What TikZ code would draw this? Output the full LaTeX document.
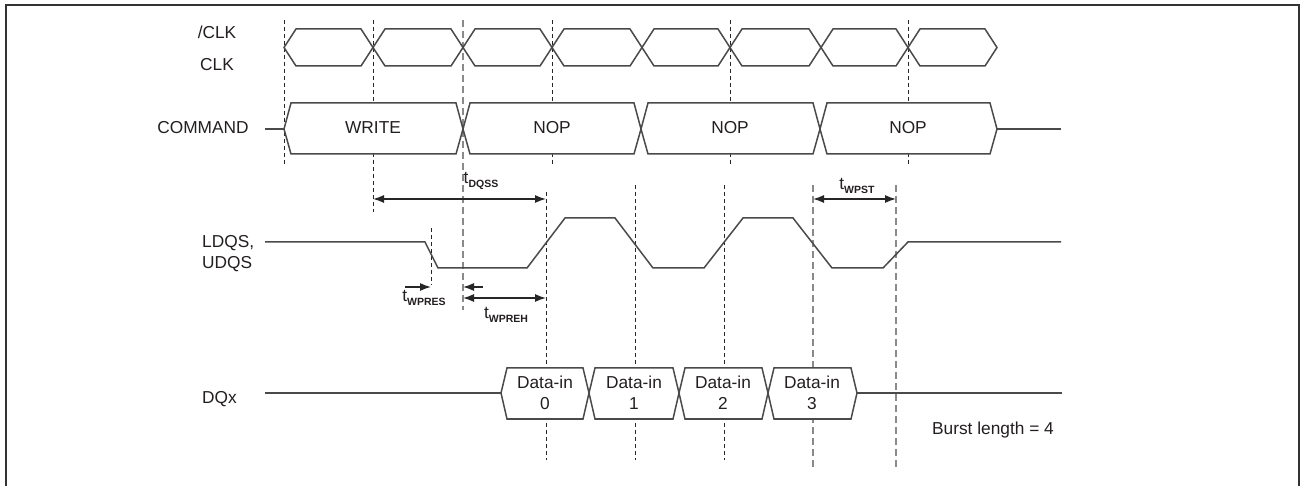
\documentclass[tikz,border=0pt]{standalone}
\usepackage{fontspec}
\setmainfont{Liberation Sans}
\usetikzlibrary{arrows.meta}
\definecolor{wavecol}{HTML}{4A4A4A}
\definecolor{txtcol}{HTML}{231F20}
\definecolor{framecol}{HTML}{333333}
\definecolor{lightdash}{HTML}{8A8A8A}
\newcommand{\tlabel}[1]{t\raisebox{-4pt}{\fontsize{10.5}{12}\selectfont\bfseries #1}}
\begin{document}
\begin{tikzpicture}[x=1pt,y=-1pt,
  wave/.style={draw=wavecol, line width=1.5pt, line join=miter},
  busbox/.style={draw=wavecol, line width=1.5pt, fill=white},
  lbl/.style={font=\fontsize{17.3}{21}\selectfont, text=txtcol, inner sep=0pt},
  blackdash/.style={draw=black!85, line width=0.9pt, dash pattern=on 4pt off 3pt},
  greydash/.style={draw=lightdash, line width=1.1pt, dash pattern=on 7pt off 4pt},
  dimarrow/.style={draw=black!85, line width=1.3pt, {Latex[length=11pt,width=8pt]}-{Latex[length=11pt,width=8pt]}},
  onearrow/.style={draw=black!85, line width=1.3pt, -{Latex[length=11pt,width=8pt]}}
]
\useasboundingbox (0,0) rectangle (1302,486);
\fill[white] (0,0) rectangle (1302,486);
% frame
\draw[framecol, line width=2.6pt] (6,490) -- (6,5) -- (1299,5) -- (1299,490);

% vertical reference lines
\foreach \x/\ya/\yb in {284/20/165, 373/20/212, 552/20/165, 730/20/165, 908/20/165,
                         431/228/285, 546/192/460, 635/185/460, 724/185/460}
  \draw[blackdash] (\x,\ya) -- (\x,\yb);
\foreach \x/\ya/\yb in {463/20/310, 813/185/467, 896/185/467}
  \draw[greydash] (\x,\ya) -- (\x,\yb);

% clock
\foreach \a/\b in {284/373, 373/463, 463/552, 552/642, 642/730, 730/821, 821/908, 908/997}
  \draw[wave] (\a,47.5) -- (\a+12,29) -- (\b-12,29) -- (\b,47.5) -- (\b-12,66) -- (\a+12,66) -- cycle;

% command bus
\draw[wave] (265,129) -- (284,129);
\foreach \a/\b in {284/463, 463/641, 641/820, 820/997}
  \draw[busbox] (\a,129) -- (\a+7,103) -- (\b-7,103) -- (\b,129) -- (\b-7,154) -- (\a+7,154) -- cycle;
\draw[wave] (997,129) -- (1061,129);

% data bus
\draw[wave] (265,393) -- (501,393);
\foreach \a/\b in {501/589, 589/679, 679/768, 768/857}
  \draw[busbox] (\a,393) -- (\a+6,368) -- (\b-6,368) -- (\b,393) -- (\b-6,419) -- (\a+6,419) -- cycle;
\draw[wave] (857,393) -- (1062,393);

% DQS
\draw[wave] (265,242) -- (425,242) -- (438,268) -- (527,268) -- (565,218) -- (615,218)
  -- (653,268) -- (704,268) -- (743,218) -- (793,218) -- (832,268) -- (883,268)
  -- (908,242) -- (1061,242);

% timing arrows
\coordinate (dqssA) at (373,199);
\coordinate (dqssB) at (546,199);
\draw[dimarrow] (dqssA) -- (dqssB);
\coordinate (wpstA) at (813,199);
\coordinate (wpstB) at (896,199);
\draw[dimarrow] (wpstA) -- (wpstB);
\coordinate (wpresA) at (405,287);
\coordinate (wpresB) at (431,287);
\draw[onearrow] (wpresA) -- (wpresB);
\coordinate (wprehA) at (483,287);
\coordinate (wprehB) at (463,287);
\draw[onearrow] (wprehA) -- (wprehB);
\coordinate (wprehC) at (463,298);
\coordinate (wprehD) at (546,298);
\draw[dimarrow] (wprehC) -- (wprehD);

% labels
\node[lbl] (nclk) at (217,32) {/CLK};
\node[lbl] (clk) at (217,65) {CLK};
\node[lbl] (cmd) at (203,128) {COMMAND};
\node[lbl, anchor=west] (ldqs) at (202,243) {LDQS,};
\node[lbl, anchor=west] (udqs) at (202,264) {UDQS};
\node[lbl, anchor=west] (dqx) at (202,399) {DQx};
\node[lbl] (write) at (373,128) {WRITE};
\node[lbl] (nop1) at (552,128) {NOP};
\node[lbl] (nop2) at (730,128) {NOP};
\node[lbl] (nop3) at (908,128) {NOP};
\node[lbl, align=center] (din0) at (545,393) {Data-in\\0};
\node[lbl, align=center] (din1) at (634,393) {Data-in\\1};
\node[lbl, align=center] (din2) at (723,393) {Data-in\\2};
\node[lbl, align=center] (din3) at (812,393) {Data-in\\3};
\node[lbl] (burst) at (993,430) {Burst length = 4};
\node[lbl] (tdqss) at (481,181) {\tlabel{DQSS}};
\node[lbl] (twpst) at (857,186) {\tlabel{WPST}};
\node[lbl] (twpres) at (424,298) {\tlabel{WPRES}};
\node[lbl] (twpreh) at (506,315) {\tlabel{WPREH}};
\end{tikzpicture}
\end{document}
